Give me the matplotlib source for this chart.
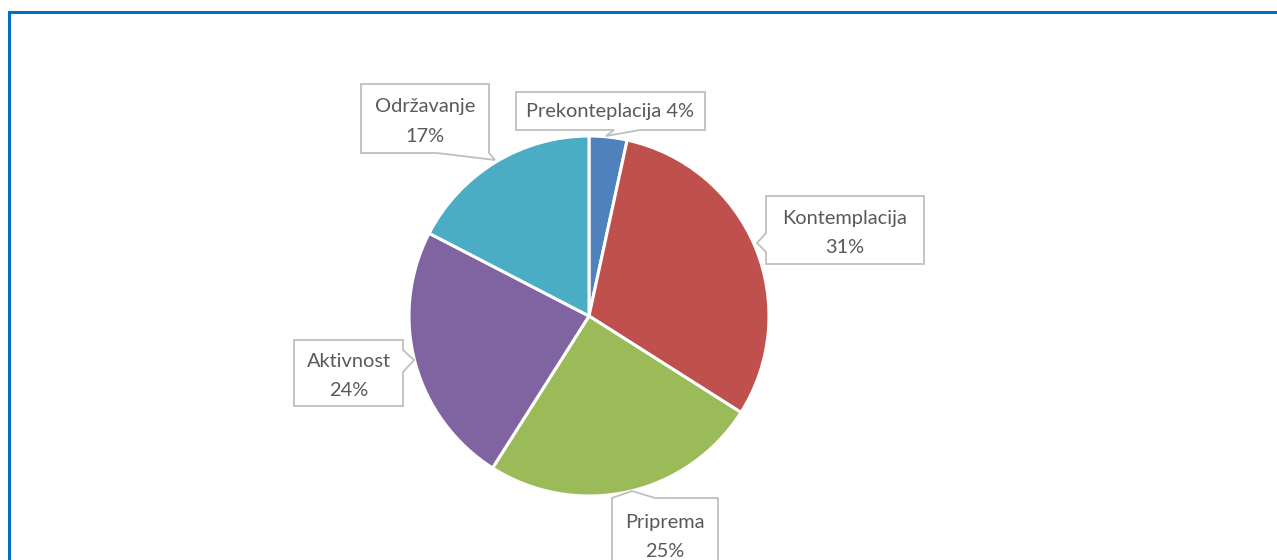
import matplotlib.pyplot as plt
from matplotlib.patches import Polygon
from matplotlib.lines import Line2D

# data
stages = ["Prekonteplacija", "Kontemplacija", "Priprema", "Aktivnost", "Održavanje"]
shares = [3.4, 30.6, 25.0, 23.6, 17.4]
pct_labels = ["4%", "31%", "25%", "24%", "17%"]
colors = ["#4F81BD", "#C0504D", "#9BBB59", "#8064A2", "#4BACC6"]

W, H = 1277, 560
plt.rcParams['font.family'] = ['Lato', 'DejaVu Sans']

fig = plt.figure(figsize=(W / 100, H / 100), dpi=100)
ax = fig.add_axes([0, 0, 1, 1])

ax.pie(shares, colors=colors, startangle=90, counterclock=False,
       center=(589, H - 316), radius=180, frame=True,
       wedgeprops=dict(edgecolor='white', linewidth=2.2))
ax.set_xlim(0, W)
ax.set_ylim(0, H)
ax.set_aspect('equal')
ax.axis('off')

# callouts: box (x0, y0, x1, y1) in pixels from top, side of pointer, base span, tip
callouts = [
    ((516, 92, 705, 130), 'bottom', (614, 640), (606, 136), True),
    ((766, 196, 924, 264), 'left', (233, 252), (757, 243), False),
    ((612, 498, 718, 580), 'top', (612, 655), (632, 491), False),
    ((294, 340, 403, 406), 'right', (350, 372), (414, 360), False),
    ((361, 84, 489, 153), 'bottom', (437, 489), (495, 160), False),
]


def fy(y):
    return H - y


for i, (box, side, base, tip, one_line) in enumerate(callouts):
    x0, y0, x1, y1 = box
    a, b = base
    if side == 'bottom':
        pts = [(x0, y0), (x1, y0), (x1, y1), (b, y1), tip, (a, y1), (x0, y1)]
    elif side == 'top':
        pts = [(x0, y0), (a, y0), tip, (b, y0), (x1, y0), (x1, y1), (x0, y1)]
    elif side == 'left':
        pts = [(x0, y0), (x1, y0), (x1, y1), (x0, y1), (x0, b), tip, (x0, a)]
    else:
        pts = [(x0, y0), (x1, y0), (x1, a), tip, (x1, b), (x1, y1), (x0, y1)]
    pts = [(px, fy(py)) for px, py in pts]
    ax.add_patch(Polygon(pts, closed=True, facecolor='white', edgecolor='#BFBFBF',
                         linewidth=1.3, zorder=5, clip_on=False))
    if one_line:
        txt = stages[i] + " " + pct_labels[i]
        cy = (y0 + y1) / 2
    else:
        txt = stages[i] + "\n" + pct_labels[i]
        cy = y0 + 39 if y1 > H else (y0 + y1) / 2 + 3
    ax.text((x0 + x1) / 2, fy(cy), txt, ha='center', va='center', fontsize=14.4,
            color='#595959', linespacing=1.9, zorder=6)

# blue chart border (cropped)
fig.add_artist(Line2D([9 / W, 9 / W], [0, 1 - 12 / H], color='#0070C0', linewidth=2.2))
fig.add_artist(Line2D([9 / W, 1], [1 - 12 / H, 1 - 12 / H], color='#0070C0', linewidth=2.2))

fig.savefig("out.png", dpi=100)
